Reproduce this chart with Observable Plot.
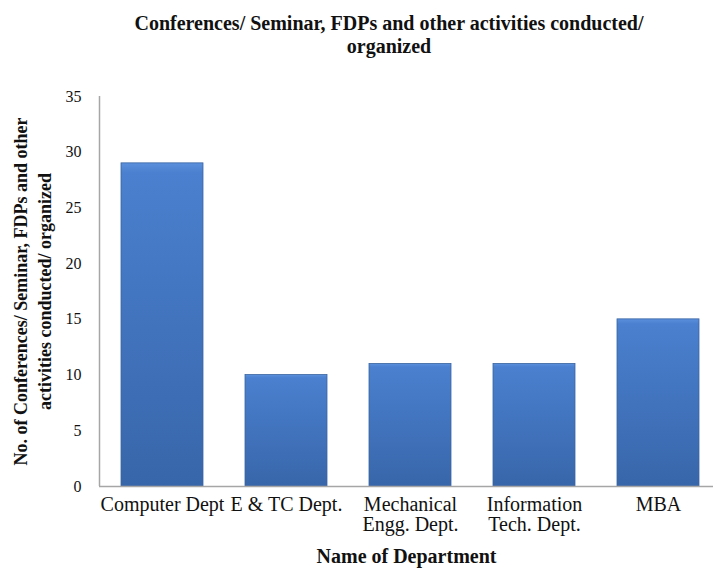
<!DOCTYPE html>
<html>
<head>
<meta charset="utf-8">
<script src="https://cdn.jsdelivr.net/npm/d3@7"></script>
<script src="https://cdn.jsdelivr.net/npm/@observablehq/plot@0.6"></script>
<style>
  body { margin: 0; background: #fff; font-family: "Times New Roman", Times, "Liberation Serif", "DejaVu Serif", "Noto Serif", FreeSerif, Tinos, serif; }
  #wrap { position: relative; width: 713px; height: 568px; overflow: hidden; }
  #title { position: absolute; left: 0; top: 12px; width: 778px; text-align: center;
           font-weight: bold; font-size: 20px; line-height: 23px; color: #111; }
  #chart { position: absolute; left: 0; top: 70px; }
</style>
</head>
<body>
<div id="wrap">
  <div id="title">Conferences/ Seminar, FDPs and other activities conducted/<br>organized</div>
  <div id="chart"></div>
</div>
<script>
const departments = ["Computer Dept", "E & TC Dept.", "Mechanical\nEngg. Dept.", "Information\nTech. Dept.", "MBA"];
const counts = [29, 10, 11, 11, 15];
const yTicks = [0, 5, 10, 15, 20, 25, 30, 35];
const xLabel = "Name of Department";
const yLabel = "No. of Conferences/ Seminar, FDPs and other\nactivities conducted/ organized";

const data = departments.map((d, i) => ({dept: d, value: counts[i]}));
const serif = "'Times New Roman', Times, 'Liberation Serif', 'DejaVu Serif', 'Noto Serif', FreeSerif, Tinos, serif";

const chart = Plot.plot({
  width: 713,
  height: 498,
  marginTop: 26,
  marginBottom: 82,
  marginLeft: 99,
  marginRight: 0,
  style: {fontFamily: serif, color: "#111", background: "transparent"},
  x: {domain: departments, range: [99, 721], paddingInner: 0.34, paddingOuter: 0.17, label: null},
  y: {domain: [0, 35], label: null},
  marks: [
    Plot.barY(data, {x: "dept", y: "value", fill: "url(#barGrad)", stroke: "#3a64a0", strokeWidth: 0.8}),
    Plot.ruleY([0], {stroke: "#a6a6a6", strokeWidth: 1.5}),
    Plot.axisY(yTicks, {tickSize: 0, tickPadding: 18, fontSize: 16, label: null, fontFamily: serif}),
    Plot.axisX({tickSize: 0, tickPadding: 10, fontSize: 20, lineHeight: 1.0, label: null, fontFamily: serif}),
    Plot.text([xLabel], {frameAnchor: "bottom", dy: 76, fontSize: 20, fontWeight: "bold", fontFamily: serif}),
    Plot.text([yLabel], {frameAnchor: "left", dx: -68, rotate: -90, fontSize: 18, fontWeight: "bold", lineHeight: 1.35, textAnchor: "middle", fontFamily: serif})
  ]
});

const svg = d3.select(chart);
const defs = svg.insert("defs", ":first-child");
const g = defs.append("linearGradient").attr("id", "barGrad").attr("x1", 0).attr("y1", 0).attr("x2", 0).attr("y2", 1);
g.append("stop").attr("offset", "0%").attr("stop-color", "#5a90dc");
g.append("stop").attr("offset", "3%").attr("stop-color", "#4a80cf");
g.append("stop").attr("offset", "100%").attr("stop-color", "#3866aa");
svg.append("line").attr("x1", 99.5).attr("x2", 99.5).attr("y1", 26).attr("y2", 416).attr("stroke", "#a6a6a6").attr("stroke-width", 1.5);

document.getElementById("chart").appendChild(chart);
</script>
</body>
</html>
